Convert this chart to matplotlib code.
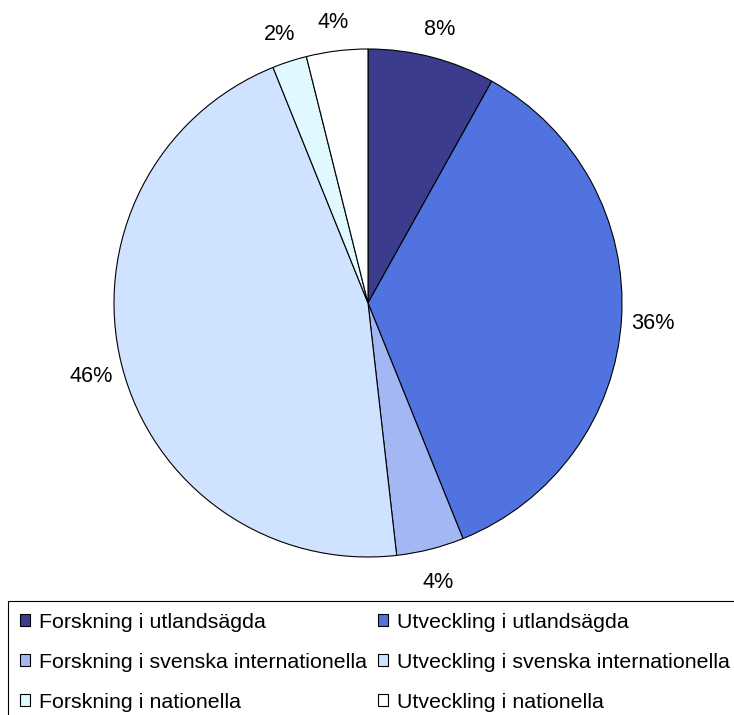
import numpy as np
import matplotlib
matplotlib.use("Agg")
import matplotlib.pyplot as plt
from matplotlib.patches import Patch

plt.rcParams['font.family'] = ['Liberation Sans', 'DejaVu Sans']

labels = ['Forskning i utlandsägda', 'Utveckling i utlandsägda',
          'Forskning i svenska internationella', 'Utveckling i svenska internationella',
          'Forskning i nationella', 'Utveckling i nationella']
values = [8.1, 35.8, 4.3, 45.7, 2.2, 3.9]
colors = ['#3B3C8E', '#5073E0', '#A3B7F5', '#CFE2FF', '#E0F8FF', '#FFFFFF']

W, H = 734, 715
fig = plt.figure(figsize=(W / 100, H / 100), dpi=100)
ax = fig.add_axes([0, 0, 1, 1])

wedges, texts, autotexts = ax.pie(values, colors=colors, startangle=90, counterclock=False,
                                  center=(368, H - 303), radius=254,
                                  autopct='%.0f%%', pctdistance=1.125,
                                  wedgeprops=dict(edgecolor='black', linewidth=0.8),
                                  textprops=dict(fontsize=15.6, color='black'),
                                  frame=True)
# labels sit a little lower than matplotlib's centring
for t in autotexts:
    x, y = t.get_position()
    t.set_position((x, y - 3))

ax.set_xlim(0, W)
ax.set_ylim(0, H)
ax.set_aspect('equal')
ax.axis('off')

# legend is filled row by row in the reference
order = [0, 2, 4, 1, 3, 5]
handles = [Patch(facecolor=colors[i], edgecolor='black', linewidth=0.8) for i in order]
leg = fig.legend(handles, [labels[i] for i in order], ncol=2, loc='upper left',
                 bbox_to_anchor=(8 / W, (H - 601) / H), fontsize=15.4,
                 handlelength=0.5, handleheight=0.5, handletextpad=0.4,
                 columnspacing=0.5, labelspacing=0.98, borderpad=0.55,
                 borderaxespad=0, fancybox=False, framealpha=1)
leg.get_frame().set_edgecolor('black')
leg.get_frame().set_linewidth(0.8)

fig.savefig('out.png', dpi=100)
